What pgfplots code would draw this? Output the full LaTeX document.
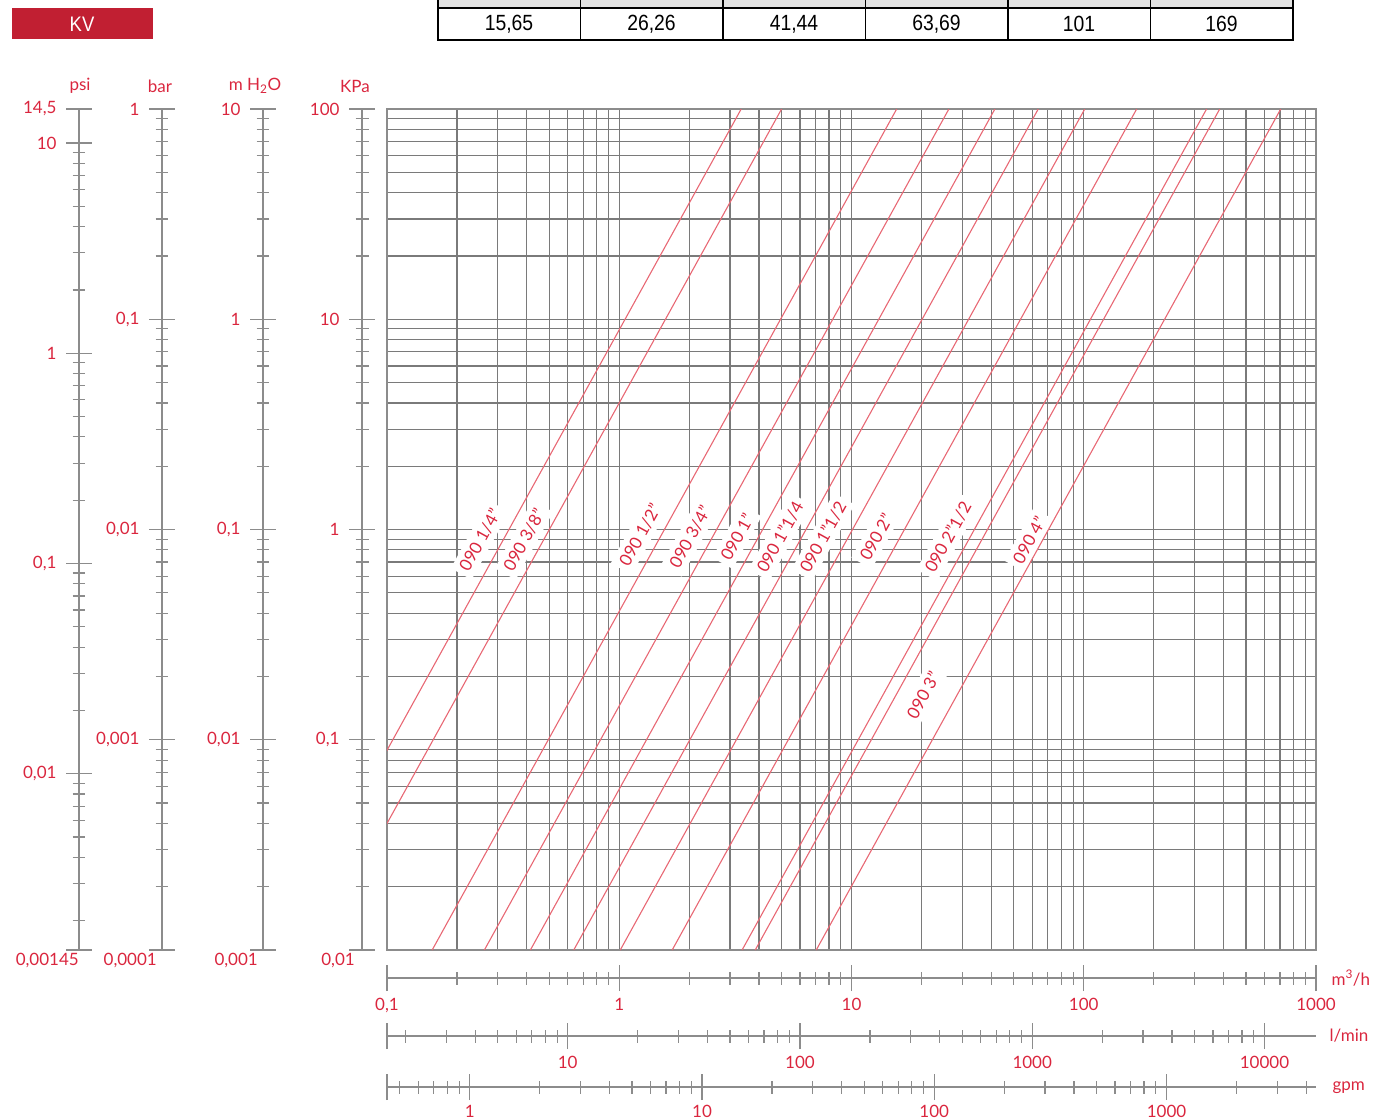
\documentclass[border=0pt]{standalone}
\usepackage{pgfplots}
\pgfplotsset{compat=1.18}
\usepackage{fontspec}
\setmainfont{Lato}
\newfontfamily\arialn{Liberation Sans}[FakeStretch=0.88]
\definecolor{cred}{RGB}{218,38,62}
\definecolor{lred}{RGB}{232,104,116}
\definecolor{hdr}{RGB}{193,31,50}
\definecolor{gridc}{RGB}{122,122,122}
\definecolor{axc}{RGB}{140,140,140}
\definecolor{thead}{RGB}{226,226,226}
\newcommand{\lbl}{\fontsize{17}{20}\selectfont}
\tikzset{lab/.style={rotate=61, fill=white, inner sep=5pt, text=cred, font=\lbl},
  kvline/.style={lred, line width=1.1pt, mark=none, solid}}
\pgfplotsset{
  scalebase/.style={
    scale only axis,
    tick align=center,
    major tick length=26pt,
    minor tick length=13pt,
    every tick/.style={axc, line width=1.2pt},
    axis line style={axc, line width=1.2pt},
    tick label style={text=cred, font=\lbl},
  },
  vscale/.style={scalebase, axis x line=none, axis y line*=left,
    width=1pt, height=841pt, xmin=0, xmax=1, xtick=\empty, anchor=south west,
    yticklabel style={anchor=east, xshift=-6pt}},
  hscale/.style={scalebase, axis y line=none, axis x line*=bottom,
    width=929pt, height=1pt, ymin=0, ymax=1, ytick=\empty, anchor=south west,
    xticklabel style={anchor=north, yshift=-4pt}},
}
\begin{document}
\begin{tikzpicture}
\useasboundingbox (0pt,0pt) rectangle (1376pt,-1118pt);
% header
\fill[hdr] (12pt,-8pt) rectangle (153pt,-39pt);
\node[text=white, font=\arialn\fontsize{21}{24}\selectfont] at (82pt,-24pt) {KV};
\fill[thead] (438pt,0pt) rectangle (1293pt,-8pt);
\draw[line width=1.5pt] (438pt,-8pt) rectangle (1293pt,-40pt);
\foreach \xx in {438,580.5,723,865.5,1008,1150.5,1293}
  \draw[line width=1.5pt] (\xx pt,0pt) -- (\xx pt,-40pt);
\foreach \xx/\tt in {509/{15,65},651.5/{26,26},794/{41,44},936.5/{63,69},1079/{101},1221.5/{169}}
  \node[font=\arialn\fontsize{22}{24}\selectfont] at (\xx pt,-24pt) {\tt};

% unit labels left
\node[text=cred, font=\lbl] at (80pt,-86pt) {psi};
\node[text=cred, font=\lbl] at (160pt,-86pt) {bar};
\node[text=cred, font=\lbl] at (255pt,-86pt) {m H\textsubscript{2}O};
\node[text=cred, font=\lbl] at (355pt,-86pt) {KPa};

% psi
\begin{semilogyaxis}[vscale, at={(79pt,-950pt)}, ymin=0.00145, ymax=14.5,
  ytick={0.00145,0.01,0.1,1,10,14.5},
  yticklabels={{},{0,01},{0,1},1,10,{14,5}},
  minor ytick={0.002,0.003,0.004,0.005,0.006,0.007,0.008,0.009,
    0.02,0.03,0.04,0.05,0.06,0.07,0.08,0.09,
    0.2,0.3,0.4,0.5,0.6,0.7,0.8,0.9,2,3,4,5,6,7,8,9}]
\end{semilogyaxis}
% bar
\begin{semilogyaxis}[vscale, at={(162pt,-950pt)}, ymin=0.0001, ymax=1,
  ytick={0.0001,0.001,0.01,0.1,1},
  yticklabels={{},{0,001},{0,01},{0,1},1},
  minor ytick={0.0002,0.0003,0.0004,0.0005,0.0006,0.0007,0.0008,0.0009,
    0.002,0.003,0.004,0.005,0.006,0.007,0.008,0.009,
    0.02,0.03,0.04,0.05,0.06,0.07,0.08,0.09,
    0.2,0.3,0.4,0.5,0.6,0.7,0.8,0.9}]
\end{semilogyaxis}
% m H2O
\begin{semilogyaxis}[vscale, at={(263pt,-950pt)}, ymin=0.001, ymax=10,
  ytick={0.001,0.01,0.1,1,10},
  yticklabels={{},{0,01},{0,1},1,10},
  minor ytick={0.002,0.003,0.004,0.005,0.006,0.007,0.008,0.009,
    0.02,0.03,0.04,0.05,0.06,0.07,0.08,0.09,
    0.2,0.3,0.4,0.5,0.6,0.7,0.8,0.9,2,3,4,5,6,7,8,9}]
\end{semilogyaxis}
% KPa
\begin{semilogyaxis}[vscale, at={(362pt,-950pt)}, ymin=0.01, ymax=100,
  ytick={0.01,0.1,1,10,100},
  yticklabels={{},{0,1},1,10,100},
  minor ytick={0.02,0.03,0.04,0.05,0.06,0.07,0.08,0.09,
    0.2,0.3,0.4,0.5,0.6,0.7,0.8,0.9,2,3,4,5,6,7,8,9,
    20,30,40,50,60,70,80,90}]
\end{semilogyaxis}
% bottom labels of vertical scales
\node[text=cred, font=\lbl, anchor=north east, inner sep=0pt] at (79pt,-953pt) {0,00145};
\node[text=cred, font=\lbl, anchor=north east, inner sep=0pt] at (157pt,-953pt) {0,0001};
\node[text=cred, font=\lbl, anchor=north east, inner sep=0pt] at (258pt,-953pt) {0,001};
\node[text=cred, font=\lbl, anchor=north east, inner sep=0pt] at (355pt,-953pt) {0,01};

% m3/h
\begin{semilogxaxis}[hscale, at={(387pt,-978pt)}, xmin=0.1, xmax=1000,
  xtick={0.1,1,10,100,1000}, xticklabels={{0,1},1,10,100,1000},
  minor xtick={0.2,0.3,0.4,0.5,0.6,0.7,0.8,0.9,2,3,4,5,6,7,8,9,
    20,30,40,50,60,70,80,90,200,300,400,500,600,700,800,900}]
\end{semilogxaxis}
% l/min
\begin{semilogxaxis}[hscale, at={(387pt,-1036pt)}, xmin=1.666667, xmax=16666.67,
  xtick={1.666667,10,100,1000,10000}, xticklabels={{},10,100,1000,10000},
  minor xtick={2,3,4,5,6,7,8,9,20,30,40,50,60,70,80,90,
    200,300,400,500,600,700,800,900,2000,3000,4000,5000,6000,7000,8000,9000}]
\end{semilogxaxis}
% gpm
\begin{semilogxaxis}[hscale, at={(387pt,-1087pt)}, xmin=0.440287, xmax=4402.87,
  xtick={0.440287,1,10,100,1000}, xticklabels={{},1,10,100,1000},
  xticklabel style={yshift=2pt},
  minor xtick={0.5,0.6,0.7,0.8,0.9,2,3,4,5,6,7,8,9,20,30,40,50,60,70,80,90,
    200,300,400,500,600,700,800,900,2000,3000,4000}]
\end{semilogxaxis}
\node[text=cred, font=\lbl, anchor=west] at (1328pt,-978pt) {m\textsuperscript{3}/h};
\node[text=cred, font=\lbl, anchor=west] at (1326pt,-1036pt) {l/min};
\node[text=cred, font=\lbl, anchor=west] at (1329pt,-1088pt) {gpm};

% main chart
\begin{loglogaxis}[at={(387pt,-950pt)}, anchor=south west,
  scale only axis, width=929pt, height=841pt,
  xmin=0.1, xmax=1000, ymin=0.01, ymax=100,
  grid=both,
  major grid style={gridc, line width=1.2pt},
  minor grid style={gridc, line width=1.2pt},
  xticklabels={,,}, yticklabels={,,},
  major tick length=0pt, minor tick length=0pt,
  axis line style={axc, line width=1.2pt},
]
\node[lab] at (rel axis cs:0.1001,0.4875) {090 1/4"};
\node[lab] at (rel axis cs:0.1475,0.4875) {090 3/8"};
\node[lab] at (rel axis cs:0.2723,0.4935) {090 1/2"};
\node[lab] at (rel axis cs:0.3262,0.4911) {090 3/4"};
\node[lab] at (rel axis cs:0.3767,0.4911) {090 1"};
\node[lab] at (rel axis cs:0.4230,0.4911) {090 1"1/4};
\node[lab] at (rel axis cs:0.4693,0.4911) {090 1"1/2};
\node[lab] at (rel axis cs:0.5264,0.4911) {090 2"};
\node[lab] at (rel axis cs:0.6039,0.4911) {090 2"1/2};
\node[lab] at (rel axis cs:0.6911,0.4875) {090 4"};
\node[lab] at (rel axis cs:0.5770,0.3032) {090 3"};
% 1/4"  Kv 3.35
\addplot[kvline] coordinates {(0.0335,0.01) (3.35,100)};
% 3/8"  Kv 5.0
\addplot[kvline] coordinates {(0.050,0.01) (5.0,100)};
% 1/2"  Kv 15.65
\addplot[kvline] coordinates {(0.1565,0.01) (15.65,100)};
% 3/4"  Kv 26.26
\addplot[kvline] coordinates {(0.2626,0.01) (26.26,100)};
% 1"  Kv 41.44
\addplot[kvline] coordinates {(0.4144,0.01) (41.44,100)};
% 1"1/4  Kv 63.69
\addplot[kvline] coordinates {(0.6369,0.01) (63.69,100)};
% 1"1/2  Kv 101
\addplot[kvline] coordinates {(1.01,0.01) (101,100)};
% 2"  Kv 169
\addplot[kvline] coordinates {(1.69,0.01) (169,100)};
% 2"1/2  Kv 338
\addplot[kvline] coordinates {(3.38,0.01) (338,100)};
% 3"  Kv 385
\addplot[kvline] coordinates {(3.85,0.01) (385,100)};
% 4"  Kv 705
\addplot[kvline] coordinates {(7.05,0.01) (705,100)};
\end{loglogaxis}
\end{tikzpicture}
\end{document}
